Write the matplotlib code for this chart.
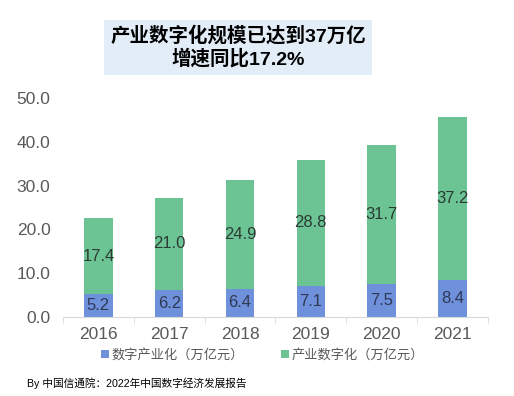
import numpy as np
import matplotlib
matplotlib.use("Agg")
import matplotlib.pyplot as plt
from matplotlib.patches import FancyBboxPatch

plt.rcParams['font.family'] = ['Liberation Sans', 'Noto Sans CJK SC', 'DejaVu Sans']

# dados
anos = ['2016', '2017', '2018', '2019', '2020', '2021']
digital_ind = [5.2, 6.2, 6.4, 7.1, 7.5, 8.4]       # 数字产业化
ind_digital = [17.4, 21.0, 24.9, 28.8, 31.7, 37.2]  # 产业数字化
rotulos = ['数字产业化（万亿元）', '产业数字化（万亿元）']
titulo = '产业数字化规模已达到37万亿\n增速同比17.2%'
fonte = 'By 中国信通院：2022年中国数字经济发展报告'

azul = '#6F90DB'
verde = '#6CC495'
cinza = '#595959'

fig = plt.figure(figsize=(5.14, 3.96), dpi=100)
ax = fig.add_axes([0.1226, 0.1995, 0.8264, 0.553])

x = np.arange(len(anos))
b1 = ax.bar(x, digital_ind, width=0.4, color=azul, label=rotulos[0])
b2 = ax.bar(x, ind_digital, width=0.4, bottom=digital_ind, color=verde, label=rotulos[1])

# rótulos no meio de cada segmento
for i in range(len(anos)):
    ax.text(x[i], digital_ind[i] / 2, f'{digital_ind[i]:.1f}', ha='center', va='center',
            fontsize=12, color='#2E3A55')
    ax.text(x[i], digital_ind[i] + ind_digital[i] / 2, f'{ind_digital[i]:.1f}', ha='center',
            va='center', fontsize=12, color='#2B3B33')

ax.set_xlim(-0.5, len(anos) - 0.5)
ax.set_ylim(0, 50)
ax.set_yticks(np.arange(0, 51, 10))
ax.set_yticklabels([f'{v:.1f}' for v in np.arange(0, 51, 10)])
ax.set_xticks(x)
ax.set_xticklabels(anos)
ax.set_xticks(np.arange(-0.5, len(anos), 1), minor=True)
ax.tick_params(axis='y', length=0, pad=9, labelsize=12.5, labelcolor=cinza)
ax.tick_params(axis='x', which='major', length=0, pad=7, labelsize=12.5, labelcolor=cinza)
ax.tick_params(axis='x', which='minor', length=4, color='#D9D9D9')
for s in ['top', 'right', 'left']:
    ax.spines[s].set_visible(False)
ax.spines['bottom'].set_color('#D9D9D9')

leg = fig.legend(handles=[b1, b2], loc='center', bbox_to_anchor=(0.51, 0.103), ncol=2,
                 frameon=False, fontsize=9.5, handlelength=0.6, handleheight=0.6,
                 handletextpad=0.2, columnspacing=2.8)
for t in leg.get_texts():
    t.set_color(cinza)

# caixa do título
caixa = FancyBboxPatch((104 / 514, 1 - 75 / 396), (372 - 104) / 514, 55 / 396,
                       boxstyle='square,pad=0', transform=fig.transFigure,
                       facecolor='#E2EDF8', edgecolor='none')
fig.patches.append(caixa)
fig.text(238 / 514, 1 - 47 / 396, titulo, ha='center', va='center', fontsize=14,
         fontweight='bold', color='black', linespacing=1.2)

fig.text(27 / 514, 1 - 383 / 396, fonte, ha='left', va='center', fontsize=7.7, color='black')

fig.savefig('out.png', dpi=100)
